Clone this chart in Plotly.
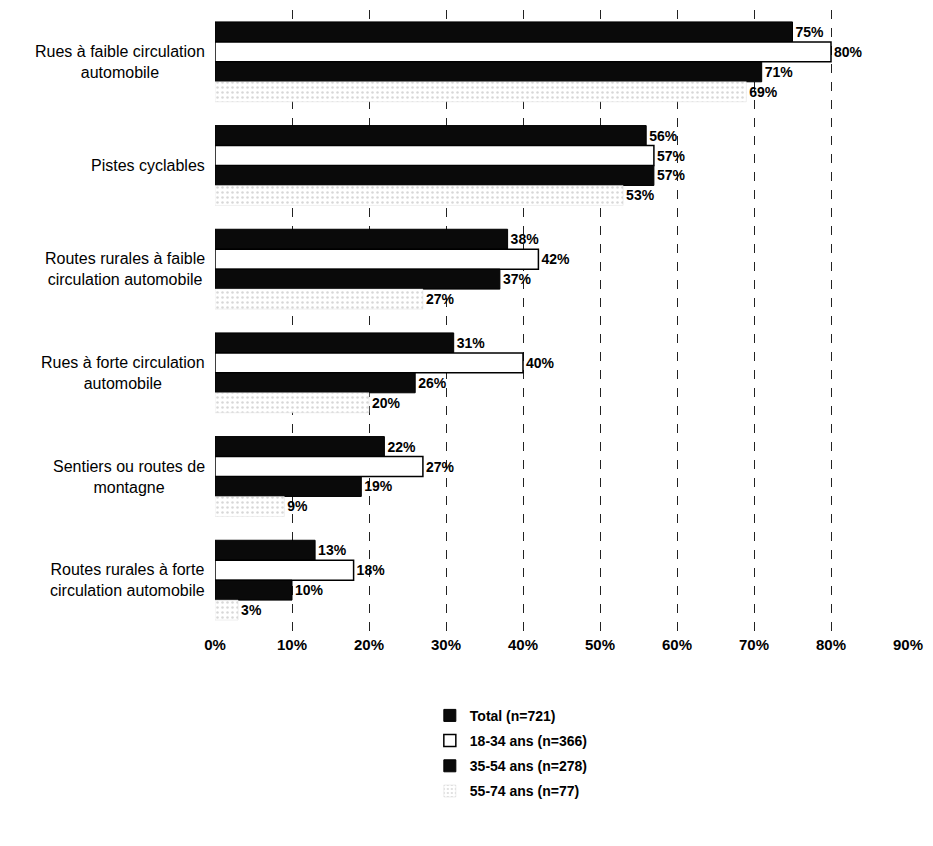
import plotly.graph_objects as go

categories = [
    "Rues à faible circulation<br>automobile",
    "Pistes cyclables",
    "Routes rurales à faible<br>circulation automobile",
    "Rues à forte circulation<br>automobile",
    "Sentiers ou routes de<br>montagne",
    "Routes rurales à forte<br>circulation automobile",
]
series_names = ["Total (n=721)", "18-34 ans (n=366)", "35-54 ans (n=278)", "55-74 ans (n=77)"]
total = [75, 56, 38, 31, 22, 13]
age_18_34 = [80, 57, 42, 40, 27, 18]
age_35_54 = [71, 57, 37, 26, 19, 10]
age_55_74 = [69, 53, 27, 20, 9, 3]
x_ticks = [0, 10, 20, 30, 40, 50, 60, 70, 80, 90]
x_tick_labels = [f"{t}%" for t in x_ticks]

FONT = "Liberation Sans, Arial, sans-serif"

styles = [
    dict(color="#0a0a0a", line=dict(color="#000", width=1)),
    dict(color="#ffffff", line=dict(color="#000", width=1.5)),
    dict(color="#0a0a0a", line=dict(color="#000", width=1)),
    dict(color="#ffffff", line=dict(color="#dddddd", width=0.5),
         pattern=dict(shape=".", fgcolor="#b0b0b0", bgcolor="#ffffff", size=5, solidity=0.2)),
]

fig = go.Figure()
for i, (name, vals) in enumerate(zip(series_names, [total, age_18_34, age_35_54, age_55_74])):
    fig.add_trace(go.Bar(
        y=categories, x=vals, name=name, orientation="h",
        marker=styles[i], legendgroup=f"g{i}",
        text=[f"{v}%" for v in vals], texttemplate="%{text}", textposition="outside",
        textfont=dict(family=FONT, size=14, color="#000", weight="bold"),
        cliponaxis=False,
    ))

# category labels, centred on two lines to the left of the bars
for c in categories:
    fig.add_annotation(
        x=-0.012, xref="paper", y=c, yref="y", text=c, showarrow=False,
        xanchor="right", yanchor="middle", align="center",
        font=dict(family=FONT, size=16, color="#000"),
    )

fig.update_layout(
    width=933, height=846,
    margin=dict(l=215, r=21, t=10, b=214),
    paper_bgcolor="white", plot_bgcolor="white",
    barmode="group", bargap=0.23, bargroupgap=0,
    showlegend=True,
    legend=dict(
        x=0.31, y=-0.109, xanchor="left", yanchor="top",
        orientation="v", traceorder="grouped", tracegroupgap=4,
        font=dict(family=FONT, size=14, color="#000", weight="bold"),
        itemwidth=30,
    ),
    xaxis=dict(
        range=[0, 90], tickmode="array", tickvals=x_ticks, ticktext=x_tick_labels,
        showgrid=True, gridcolor="#222", gridwidth=1, griddash="dash",
        zeroline=False, showline=False, ticks="", ticklabelstandoff=2,
        tickfont=dict(family=FONT, size=15, color="#000", weight="bold"),
    ),
    yaxis=dict(
        autorange="reversed", showticklabels=False, showgrid=False,
        zeroline=False, showline=False, ticks="",
    ),
)

fig.write_html("out.html")
